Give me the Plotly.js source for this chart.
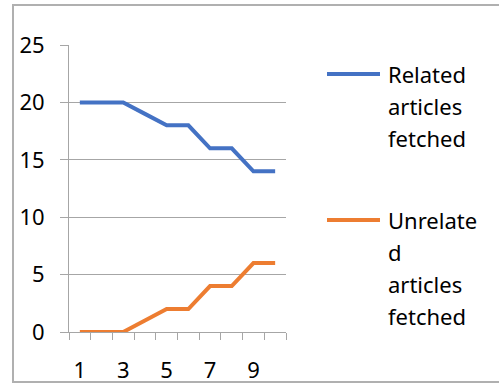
<!DOCTYPE html>
<html>
<head>
<meta charset="utf-8">
<script src="https://cdn.plot.ly/plotly-3.0.1.min.js"></script>
<style>
  html, body { margin: 0; padding: 0; background: #fff; }
  #chart { width: 499px; height: 385px; }
</style>
</head>
<body>
<div id="chart"></div>
<script>
// Fetch runs 1..10
const runs = [1, 2, 3, 4, 5, 6, 7, 8, 9, 10];
const relatedFetched = [20, 20, 20, 19, 18, 18, 16, 16, 14, 14];
const unrelatedFetched = [0, 0, 0, 1, 2, 2, 4, 4, 6, 6];
const xTickLabels = [1, 3, 5, 7, 9];
const yTickValues = [0, 5, 10, 15, 20, 25];
const seriesColors = ['#4472C4', '#ED7D31'];
// Legend labels, wrapped line by line
const relatedLabelLines = ['Related', 'articles', 'fetched'];
const unrelatedLabelLines = ['Unrelate', 'd', 'articles', 'fetched'];

const W = 499, H = 385;
const M = { l: 69, r: 213, t: 45, b: 53 };
const plotW = W - M.l - M.r, plotH = H - M.t - M.b;
const px = x => (x - M.l) / plotW;          // pixel -> paper x
const py = y => 1 - (y - M.t) / plotH;      // pixel -> paper y

const FONT = 'Noto Sans, Open Sans, sans-serif';
const GRID = '#a6a6a6';

const traces = [
  { x: runs, y: relatedFetched, name: relatedLabelLines.join(' '), type: 'scatter', mode: 'lines',
    line: { color: seriesColors[0], width: 4 }, hoverinfo: 'x+y' },
  { x: runs, y: unrelatedFetched, name: unrelatedLabelLines.join(''), type: 'scatter', mode: 'lines',
    line: { color: seriesColors[1], width: 4 }, hoverinfo: 'x+y' }
];

// Hand-built legend: a swatch line and stacked label lines per series
const shapes = [
  // chart frame
  { type: 'rect', xref: 'paper', yref: 'paper', x0: px(13), x1: px(501), y0: py(382), y1: py(5),
    line: { color: '#b0b0b0', width: 2 }, fillcolor: 'rgba(0,0,0,0)', layer: 'below' }
];
const annotations = [];
function legendEntry(lines, color, y0) {
  shapes.push({ type: 'line', xref: 'paper', yref: 'paper', x0: px(327), x1: px(380), y0: py(y0), y1: py(y0),
    line: { color: color, width: 4 } });
  lines.forEach((t, i) => {
    annotations.push({ xref: 'paper', yref: 'paper', x: px(386), y: py(y0 + i * 32), text: t,
      showarrow: false, xanchor: 'left', yanchor: 'middle', align: 'left',
      font: { family: FONT, size: 22, color: '#000' } });
  });
}
legendEntry(relatedLabelLines, seriesColors[0], 74);
legendEntry(unrelatedLabelLines, seriesColors[1], 220);

const layout = {
  width: W, height: H,
  margin: M,
  paper_bgcolor: '#fff', plot_bgcolor: '#fff',
  showlegend: false,
  font: { family: FONT, size: 22, color: '#000' },
  xaxis: {
    range: [0.5, 10.5], tickmode: 'array', tickvals: xTickLabels, ticktext: xTickLabels.map(String),
    ticks: '', showgrid: false, zeroline: false,
    showline: true, linecolor: GRID, linewidth: 1,
    ticklabelstandoff: 19,
    minor: { tickmode: 'linear', tick0: 0.5, dtick: 1, ticks: 'outside', ticklen: 7, tickcolor: GRID, tickwidth: 1, showgrid: false },
    fixedrange: true
  },
  yaxis: {
    range: [0, 25], tickmode: 'array', tickvals: yTickValues,
    ticks: 'outside', ticklen: 8, tickcolor: GRID, tickwidth: 1,
    showgrid: true, gridcolor: GRID, gridwidth: 1, zeroline: false,
    showline: true, linecolor: GRID, linewidth: 1,
    ticklabelstandoff: 11,
    fixedrange: true
  },
  shapes: shapes,
  annotations: annotations
};

Plotly.newPlot('chart', traces, layout, { displayModeBar: false, staticPlot: true });
</script>
</body>
</html>
